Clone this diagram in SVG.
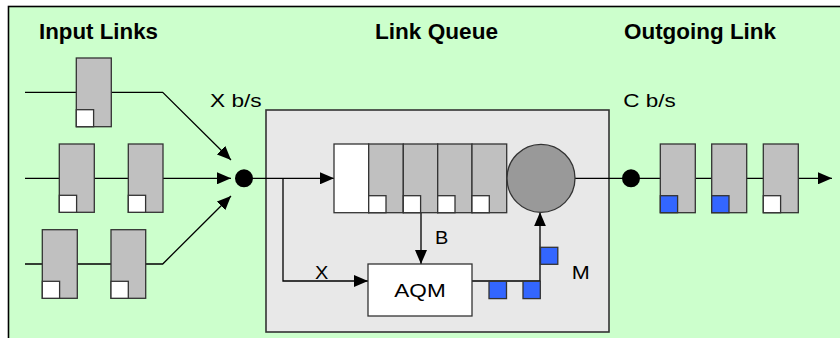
<svg xmlns="http://www.w3.org/2000/svg" width="840" height="338" viewBox="0 0 840 338">
<defs>
<style>
.bg{fill:#CCFFCC;stroke:#000;stroke-width:1.6}
.box{fill:#E8E8E8;stroke:#333;stroke-width:1.6}
.pkt{fill:#C0C0C0;stroke:#333;stroke-width:1.3}
.wsq{fill:#FFFFFF;stroke:#333;stroke-width:1.3}
.bsq{fill:#3366FF;stroke:#333;stroke-width:1.3}
.ln{fill:none;stroke:#000;stroke-width:1.3}
.arr{fill:none;stroke:#000;stroke-width:1.3;marker-end:url(#ah)}
.dot{fill:#000}
.h{font-family:"Liberation Sans",Arial,sans-serif;font-weight:bold;font-size:22px;fill:#000}
.t{font-family:"Liberation Sans",Arial,sans-serif;font-size:19px;fill:#000}
</style>
<marker id="ah" viewBox="0 0 14 12" refX="14" refY="6" markerWidth="14" markerHeight="12" markerUnits="userSpaceOnUse" orient="auto">
<path d="M0,0 L14,6 L0,12 Z" fill="#000"/>
</marker>
</defs>

<rect class="bg" x="8.5" y="6.5" width="840" height="340"/>

<g id="titles">
<text class="h" x="39" y="39" textLength="119" lengthAdjust="spacingAndGlyphs">Input Links</text>
<text class="h" x="375" y="39" textLength="123" lengthAdjust="spacingAndGlyphs">Link Queue</text>
<text class="h" x="624" y="39" textLength="152" lengthAdjust="spacingAndGlyphs">Outgoing Link</text>
</g>

<g id="link-queue">
<rect class="box" x="266" y="110" width="343" height="222"/>
</g>

<g id="connectors">
<polyline class="arr" points="25,92.3 162.7,92.3 231,160"/>
<polyline class="arr" points="25,178.3 231,178.3"/>
<polyline class="arr" points="25,264 162.7,264 231,196"/>
<line class="arr" x1="244" y1="178.3" x2="334" y2="178.3"/>
<polyline class="arr" points="283,178.3 283,281 368,281"/>
<line class="arr" x1="421" y1="212.7" x2="421" y2="264"/>
<polyline class="arr" points="472,281 540,281 540,212.3"/>
<line class="ln" x1="575" y1="178.3" x2="631" y2="178.3"/>
<line class="arr" x1="631" y1="178.3" x2="832" y2="178.3"/>
</g>

<g id="input-packets">
<g id="in-top">
<rect class="pkt" x="76.3" y="58" width="35" height="68.7"/>
<rect class="wsq" x="76.3" y="109.7" width="17.3" height="17"/>
</g>
<g id="in-mid-1">
<rect class="pkt" x="59.3" y="144" width="35" height="68.3"/>
<rect class="wsq" x="59.3" y="195.3" width="17.3" height="17"/>
</g>
<g id="in-mid-2">
<rect class="pkt" x="128.3" y="144" width="34.7" height="68.3"/>
<rect class="wsq" x="128.3" y="195.3" width="17.3" height="17"/>
</g>
<g id="in-bot-1">
<rect class="pkt" x="42.3" y="229.7" width="35" height="68.6"/>
<rect class="wsq" x="42.3" y="281.3" width="17.3" height="17"/>
</g>
<g id="in-bot-2">
<rect class="pkt" x="111" y="229.7" width="34.7" height="68.6"/>
<rect class="wsq" x="111" y="281.3" width="17.3" height="17"/>
</g>
</g>

<g id="merge-dot"><circle class="dot" cx="244" cy="178.3" r="9"/></g>
<g id="label-xbs"><text class="t" x="210" y="106.7" textLength="51.7" lengthAdjust="spacingAndGlyphs">X b/s</text></g>

<g id="queue">
<rect x="334" y="144" width="34.7" height="68.7" fill="#FFFFFF" stroke="#333" stroke-width="1.3"/>
<rect class="pkt" x="368.7" y="144" width="34.6" height="68.7"/>
<rect class="wsq" x="368.7" y="195.7" width="17.3" height="17"/>
<rect class="pkt" x="403.3" y="144" width="34.4" height="68.7"/>
<rect class="wsq" x="403.3" y="195.7" width="17.3" height="17"/>
<rect class="pkt" x="437.7" y="144" width="34.3" height="68.7"/>
<rect class="wsq" x="437.7" y="195.7" width="17.3" height="17"/>
<rect class="pkt" x="472" y="144" width="34.7" height="68.7"/>
<rect class="wsq" x="472" y="195.7" width="17.3" height="17"/>
</g>

<g id="server"><circle cx="541" cy="178.3" r="34" fill="#999999" stroke="#333" stroke-width="1.3"/></g>

<g id="aqm">
<rect x="368" y="264" width="104" height="52" fill="#FFFFFF" stroke="#333" stroke-width="1.3"/>
<text class="t" x="394.3" y="296.7" textLength="51.4" lengthAdjust="spacingAndGlyphs">AQM</text>
</g>

<g id="marks">
<rect class="bsq" x="489" y="281.3" width="17.5" height="17.3"/>
<rect class="bsq" x="523" y="281.3" width="17.3" height="17.3"/>
<rect class="bsq" x="540.5" y="247.3" width="17.3" height="17"/>
</g>

<g id="labels">
<text class="t" x="435" y="244.3" textLength="13.3" lengthAdjust="spacingAndGlyphs">B</text>
<text class="t" x="315" y="279" textLength="13.3" lengthAdjust="spacingAndGlyphs">X</text>
<text class="t" x="571.7" y="279" textLength="18" lengthAdjust="spacingAndGlyphs">M</text>
<text class="t" x="623.3" y="106.7" textLength="52.4" lengthAdjust="spacingAndGlyphs">C b/s</text>
</g>

<g id="out-dot"><circle class="dot" cx="631" cy="178.3" r="9"/></g>

<g id="output-packets">
<g id="out-1">
<rect class="pkt" x="660.3" y="144" width="35" height="68.7"/>
<rect class="bsq" x="660.3" y="195.7" width="17.3" height="17"/>
</g>
<g id="out-2">
<rect class="pkt" x="711.7" y="144" width="35" height="68.7"/>
<rect class="bsq" x="711.7" y="195.7" width="17.3" height="17"/>
</g>
<g id="out-3">
<rect class="pkt" x="763.3" y="144" width="35" height="68.7"/>
<rect class="wsq" x="763.3" y="195.7" width="17.3" height="17"/>
</g>
</g>
</svg>
